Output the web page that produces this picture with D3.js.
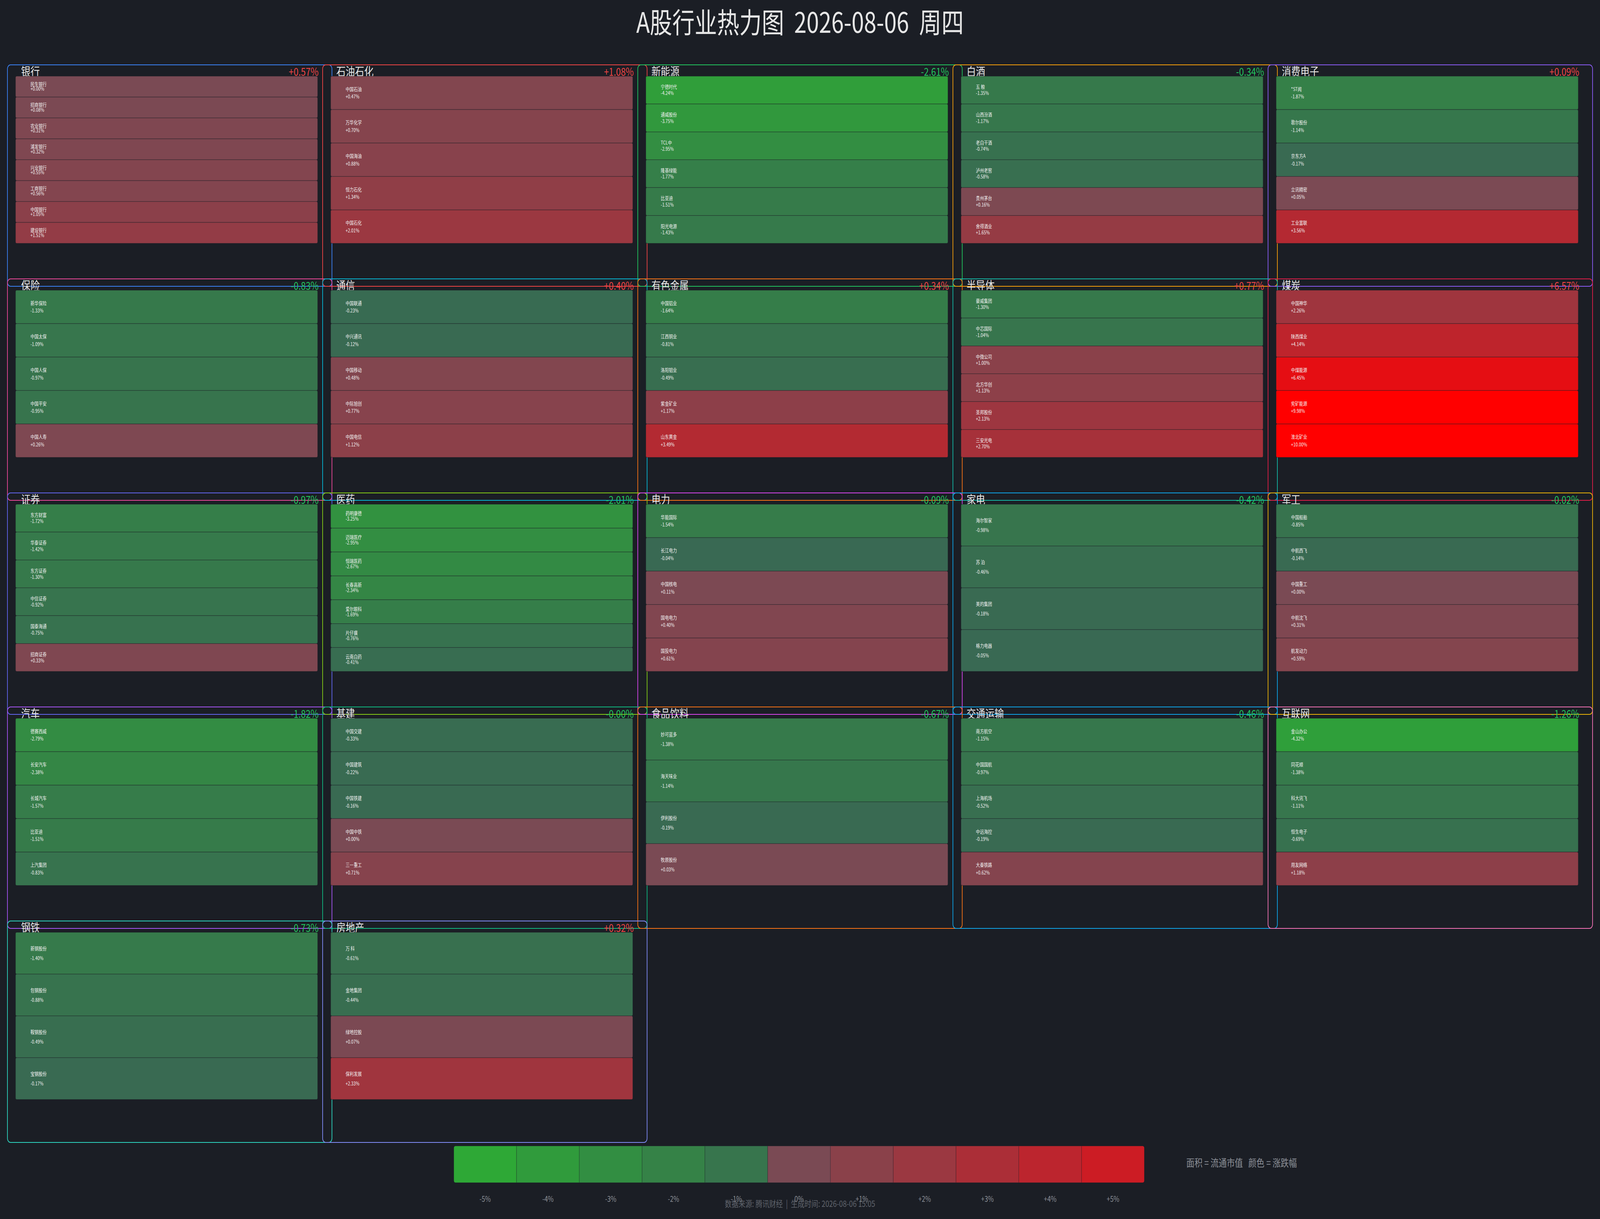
<!DOCTYPE html>
<html>
<head>
<meta charset="utf-8">
<script src="https://cdn.jsdelivr.net/npm/d3@7"></script>
<style>
html, body { margin: 0; padding: 0; background: #1b1e25; overflow: hidden; }
svg { display: block; width: 100vw; height: 100vh; font-family: "Noto Sans CJK SC", "Noto Sans", sans-serif; }
</style>
</head>
<body>
<svg id="chart" viewBox="0 0 5148 3121" preserveAspectRatio="none"></svg>
<script>
// industries, in reading order (5 per row)
const industries = ["银行", "石油石化", "新能源", "白酒", "消费电子",
    "保险", "通信", "有色金属", "半导体", "煤炭",
    "证券", "医药", "电力", "家电", "军工",
    "汽车", "基建", "食品饮料", "交通运输", "互联网",
    "钢铁", "房地产"];

const industryChange = [0.57, 1.08, -2.61, -0.34, 0.09,
    -0.83, 0.40, 0.34, 0.77, 6.57,
    -0.97, -2.01, -0.09, -0.42, -0.02,
    -1.82, -0, -0.67, -0.46, -1.26,
    -0.73, 0.32];

const stockNames = [
    ["民生银行", "招商银行", "农业银行", "浦发银行", "兴业银行", "工商银行", "中国银行", "建设银行"],
    ["中国石油", "万华化学", "中国海油", "恒力石化", "中国石化"],
    ["宁德时代", "通威股份", "TCL中", "隆基绿能", "比亚迪", "阳光电源"],
    ["五 粮", "山西汾酒", "老白干酒", "泸州老窖", "贵州茅台", "舍得酒业"],
    ["*ST闻", "歌尔股份", "京东方A", "立讯精密", "工业富联"],
    ["新华保险", "中国太保", "中国人保", "中国平安", "中国人寿"],
    ["中国联通", "中兴通讯", "中国移动", "中际旭创", "中国电信"],
    ["中国铝业", "江西铜业", "洛阳钼业", "紫金矿业", "山东黄金"],
    ["豪威集团", "中芯国际", "中微公司", "北方华创", "圣邦股份", "三安光电"],
    ["中国神华", "陕西煤业", "中煤能源", "兖矿能源", "淮北矿业"],
    ["东方财富", "华泰证券", "东方证券", "中信证券", "国泰海通", "招商证券"],
    ["药明康德", "迈瑞医疗", "恒瑞医药", "长春高新", "爱尔眼科", "片仔癀", "云南白药"],
    ["华能国际", "长江电力", "中国核电", "国电电力", "国投电力"],
    ["海尔智家", "苏 泊", "美的集团", "格力电器"],
    ["中国船舶", "中航西飞", "中国重工", "中航沈飞", "航发动力"],
    ["德赛西威", "长安汽车", "长城汽车", "比亚迪", "上汽集团"],
    ["中国交建", "中国建筑", "中国铁建", "中国中铁", "三一重工"],
    ["妙可蓝多", "海天味业", "伊利股份", "牧原股份"],
    ["南方航空", "中国国航", "上海机场", "中远海控", "大秦铁路"],
    ["金山办公", "同花顺", "科大讯飞", "恒生电子", "用友网络"],
    ["新钢股份", "包钢股份", "鞍钢股份", "宝钢股份"],
    ["万 科", "金地集团", "绿地控股", "保利发展"]
];

const stockChange = [
    [0.00, 0.08, 0.31, 0.32, 0.55, 0.56, 1.05, 1.51],
    [0.47, 0.70, 0.88, 1.34, 2.01],
    [-4.24, -3.75, -2.95, -1.77, -1.51, -1.43],
    [-1.35, -1.17, -0.74, -0.58, 0.16, 1.65],
    [-1.87, -1.14, -0.17, 0.05, 3.56],
    [-1.33, -1.09, -0.97, -0.95, 0.26],
    [-0.23, -0.12, 0.48, 0.77, 1.12],
    [-1.64, -0.81, -0.49, 1.17, 3.49],
    [-1.30, -1.04, 1.00, 1.13, 2.13, 2.70],
    [2.26, 4.14, 6.45, 9.98, 10.00],
    [-1.72, -1.42, -1.30, -0.92, -0.75, 0.33],
    [-3.25, -2.95, -2.67, -2.34, -1.69, -0.76, -0.41],
    [-1.54, -0.04, 0.11, 0.40, 0.61],
    [-0.98, -0.46, -0.18, -0.05],
    [-0.85, -0.14, 0.00, 0.31, 0.59],
    [-2.79, -2.38, -1.57, -1.51, -0.83],
    [-0.33, -0.22, -0.16, 0.00, 0.71],
    [-1.38, -1.14, -0.19, 0.03],
    [-1.15, -0.97, -0.52, -0.19, 0.62],
    [-4.32, -1.38, -1.11, -0.69, 1.18],
    [-1.40, -0.88, -0.49, -0.17],
    [-0.61, -0.44, 0.07, 2.33]
];

const legendTicks = [-5, -4, -3, -2, -1, 0, 1, 2, 3, 4, 5];

const panelColors = ["#3b82f6", "#ef4444", "#22c55e", "#f59e0b", "#8b5cf6",
    "#ec4899", "#06b6d4", "#f97316", "#14b8a6", "#e11d48",
    "#6366f1", "#84cc16", "#d946ef", "#0ea5e9", "#eab308",
    "#a855f7", "#10b981", "#f97316", "#0ea5e9", "#f472b6",
    "#2dd4bf", "#818cf8"];

const W = 5148, H = 3121;
const boxW = 1044, boxH = 567;

// green below zero, red above; separate ramps on each side
const negColor = d3.scaleLinear().domain([-5, 0]).range(["#2ea836", "#396853"]).clamp(true);
const posColor = d3.scaleLinear().domain([0, 5, 8]).range(["#7a4a54", "#cc1c24", "#ff0000"]).clamp(true);
const color = v => v < 0 ? negColor(v) : posColor(v);

const isNeg = v => v < 0 || Object.is(v, -0);
const fmt = v => (isNeg(v) ? "-" : "+") + Math.abs(v).toFixed(2) + "%";

const colX = d3.scaleLinear().domain([0, 5]).range([24, 24 + 5 * 1014]);
const rowY = d3.scaleLinear().domain([0, 5]).range([166, 166 + 5 * 548]);

const svg = d3.select("#chart");
svg.append("rect").attr("width", W).attr("height", H).attr("fill", "#1b1e25");

svg.append("text")
    .attr("x", W / 2).attr("y", 84)
    .attr("text-anchor", "middle")
    .style("white-space", "pre")
    .attr("font-size", 72)
    .attr("fill", "#e6e6e6")
    .text("A股行业热力图  2026-08-06  周四");

industries.forEach((name, i) => {
    const bx = colX(i % 5), by = rowY(Math.floor(i / 5));
    const g = svg.append("g");

    g.append("rect")
        .attr("x", bx).attr("y", by)
        .attr("width", boxW).attr("height", boxH)
        .attr("rx", 10)
        .attr("fill", "none")
        .attr("stroke", panelColors[i])
        .attr("stroke-width", 2.2);

    g.append("text")
        .attr("x", bx + 44).attr("y", by + 28)
        .attr("font-size", 30)
        .attr("fill", "#e8e8e8")
        .text(name);

    const chg = industryChange[i];
    g.append("text")
        .attr("x", bx + boxW - 43).attr("y", by + 28)
        .attr("text-anchor", "end")
        .attr("font-size", 28)
        .attr("fill", isNeg(chg) ? "#22c55e" : "#ef4444")
        .text(fmt(chg));

    const names = stockNames[i], vals = stockChange[i];
    const y = d3.scaleBand().domain(d3.range(names.length)).range([by + 29, by + 457]);
    const cx = bx + 26, cw = 972, h = y.bandwidth();

    const cell = g.selectAll("g.cell").data(vals).join("g").attr("class", "cell");
    cell.append("rect")
        .attr("x", cx).attr("y", (d, k) => y(k))
        .attr("width", cw).attr("height", h)
        .attr("rx", 4)
        .attr("fill", d => color(d))
        .attr("stroke", "rgba(27,30,37,0.45)")
        .attr("stroke-width", 1.5);
    cell.append("text")
        .attr("x", cx + 48).attr("y", (d, k) => y(k) + h * 0.40)
        .attr("dominant-baseline", "middle")
        .style("white-space", "pre")
        .attr("font-size", 13)
        .attr("fill", "#f2f2f2")
        .text((d, k) => names[k]);
    cell.append("text")
        .attr("x", cx + 48).attr("y", (d, k) => y(k) + h * 0.63)
        .attr("dominant-baseline", "middle")
        .attr("font-size", 13)
        .attr("fill", "#f2f2f2")
        .text(d => fmt(d));
});

// legend
const lx = d3.scaleBand().domain(legendTicks).range([1460, 3682]);
const ly = 2934, lh = 94;
svg.append("clipPath").attr("id", "legclip")
    .append("rect").attr("x", 1460).attr("y", ly).attr("width", 3682 - 1460).attr("height", lh).attr("rx", 6);
const leg = svg.append("g").attr("clip-path", "url(#legclip)");
leg.selectAll("rect").data(legendTicks).join("rect")
    .attr("x", d => lx(d)).attr("y", ly)
    .attr("width", lx.bandwidth()).attr("height", lh)
    .attr("fill", d => color(d))
    .attr("stroke", "rgba(27,30,37,0.35)")
    .attr("stroke-width", 1.5);

svg.append("g").selectAll("text").data(legendTicks).join("text")
    .attr("x", d => lx(d) + lx.bandwidth() / 2)
    .attr("y", 3072)
    .attr("text-anchor", "middle")
    .attr("dominant-baseline", "middle")
    .attr("font-size", 20)
    .attr("fill", "#8b8f97")
    .text(d => (d > 0 ? "+" : "") + d + "%");

svg.append("text")
    .attr("x", 3817).attr("y", 2980)
    .attr("dominant-baseline", "middle")
    .style("white-space", "pre")
    .attr("font-size", 26)
    .attr("fill", "#8b8f97")
    .text("面积 = 流通市值   颜色 = 涨跌幅");

svg.append("text")
    .attr("x", W / 2).attr("y", 3084)
    .attr("text-anchor", "middle")
    .attr("dominant-baseline", "middle")
    .style("white-space", "pre")
    .attr("font-size", 22)
    .attr("fill", "#5f636b")
    .text("数据来源: 腾讯财经  |  生成时间: 2026-08-06 15:05");
</script>
</body>
</html>
